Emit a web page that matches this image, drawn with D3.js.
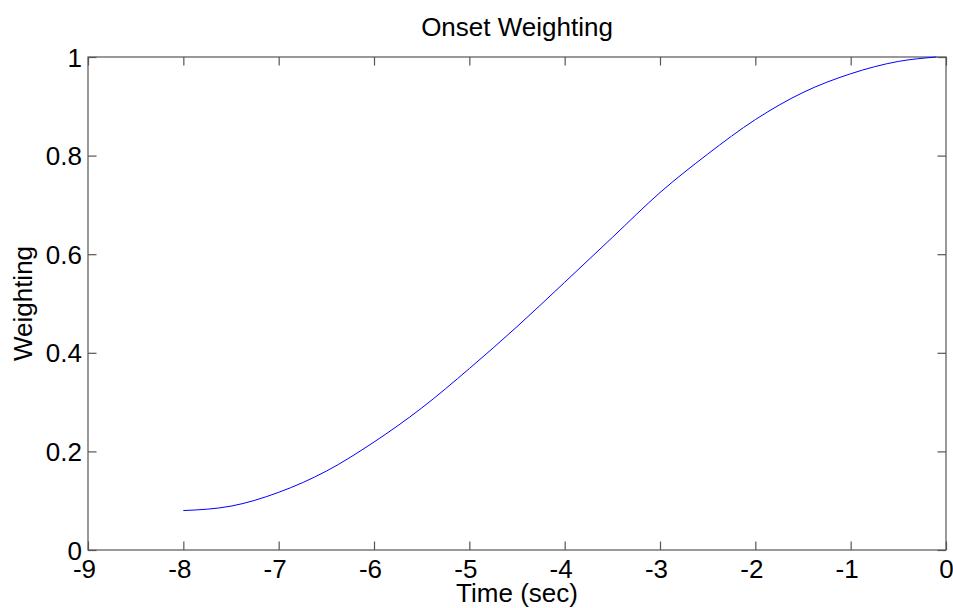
<!DOCTYPE html>
<html>
<head>
<meta charset="utf-8">
<script src="https://cdn.jsdelivr.net/npm/d3@7"></script>
<style>
  html, body { margin: 0; padding: 0; background: #fff; }
  svg { display: block; }
  text { font-family: "Liberation Sans", Arial, Helvetica, sans-serif; fill: #000; }
</style>
</head>
<body>
<svg id="chart" width="953" height="608"></svg>
<script>
// ---- data ----
const timeSec = [-8, -7.5, -7, -6.5, -6, -5.5, -5, -4.5, -4, -3.5, -3, -2.5, -2, -1.5, -1, -0.5, -0.1];
const weighting = [0.080, 0.089, 0.117, 0.160, 0.219, 0.288, 0.368, 0.453, 0.543, 0.634, 0.725, 0.803, 0.873, 0.928, 0.966, 0.991, 1.0];
const xTicks = [-9, -8, -7, -6, -5, -4, -3, -2, -1, 0];
const yTicks = [0, 0.2, 0.4, 0.6, 0.8, 1];
const titleText = "Onset Weighting";
const xLabelText = "Time (sec)";
const yLabelText = "Weighting";

// ---- layout ----
const mLeft = 88, mRight = 946, mTop = 57, mBottom = 550;
const svg = d3.select("#chart");

const x = d3.scaleLinear().domain([-9, 0]).range([mLeft, mRight]);
const y = d3.scaleLinear().domain([0, 1]).range([mBottom, mTop]);

const axisColor = "#555";
const tickLen = 8.5;
const fontSize = 26;

// box
svg.append("rect")
  .attr("x", mLeft).attr("y", mTop)
  .attr("width", mRight - mLeft).attr("height", mBottom - mTop)
  .attr("fill", "none").attr("stroke", axisColor).attr("stroke-width", 1.2);

// bottom axis (ticks inward)
const xAxis = d3.axisBottom(x).tickValues(xTicks).tickSizeInner(-tickLen).tickSizeOuter(0)
  .tickFormat(d3.format("d"));
const gx = svg.append("g").attr("transform", `translate(0,${mBottom})`).call(xAxis);
gx.select(".domain").remove();
gx.selectAll(".tick line").attr("stroke", axisColor).attr("stroke-width", 1.2);
gx.selectAll(".tick text")
  .attr("font-size", fontSize)
  .attr("font-family", "Liberation Sans, Arial, sans-serif")
  .attr("fill", "#000")
  .attr("y", 0).attr("dy", null)
  .attr("transform", "translate(0,28)")
  .attr("dx", d => d < 0 ? -4 : 0)
  .text(d => d < 0 ? "-" + Math.abs(d) : String(d));

// top axis ticks
const xTop = d3.axisTop(x).tickValues(xTicks).tickSizeInner(-tickLen).tickSizeOuter(0).tickFormat("");
const gxt = svg.append("g").attr("transform", `translate(0,${mTop})`).call(xTop);
gxt.select(".domain").remove();
gxt.selectAll(".tick line").attr("stroke", axisColor).attr("stroke-width", 1.2);

// left axis
const yAxis = d3.axisLeft(y).tickValues(yTicks).tickSizeInner(-tickLen).tickSizeOuter(0)
  .tickFormat(d => String(+d.toFixed(1)));
const gy = svg.append("g").attr("transform", `translate(${mLeft},0)`).call(yAxis);
gy.select(".domain").remove();
gy.selectAll(".tick line").attr("stroke", axisColor).attr("stroke-width", 1.2);
gy.selectAll(".tick text")
  .attr("font-size", fontSize)
  .attr("font-family", "Liberation Sans, Arial, sans-serif")
  .attr("fill", "#000")
  .attr("x", -6).attr("dy", "0.35em");

// right axis ticks
const yRight = d3.axisRight(y).tickValues(yTicks).tickSizeInner(-tickLen).tickSizeOuter(0).tickFormat("");
const gyr = svg.append("g").attr("transform", `translate(${mRight},0)`).call(yRight);
gyr.select(".domain").remove();
gyr.selectAll(".tick line").attr("stroke", axisColor).attr("stroke-width", 1.2);

// line
const pts = timeSec.map((t, i) => [t, weighting[i]]);
const line = d3.line().x(d => x(d[0])).y(d => y(d[1])).curve(d3.curveMonotoneX);
svg.append("path")
  .datum(pts)
  .attr("d", line)
  .attr("fill", "none")
  .attr("stroke", "#0000ff")
  .attr("stroke-width", 1);

// title
svg.append("text")
  .attr("x", (mLeft + mRight) / 2).attr("y", 36)
  .attr("text-anchor", "middle")
  .attr("font-size", fontSize)
  .text(titleText);

// x label
svg.append("text")
  .attr("x", (mLeft + mRight) / 2).attr("y", 602)
  .attr("text-anchor", "middle")
  .attr("font-size", fontSize)
  .text(xLabelText);

// y label
svg.append("text")
  .attr("transform", `translate(32,${(mTop + mBottom) / 2}) rotate(-90)`)
  .attr("text-anchor", "middle")
  .attr("font-size", fontSize)
  .text(yLabelText);
</script>
</body>
</html>
